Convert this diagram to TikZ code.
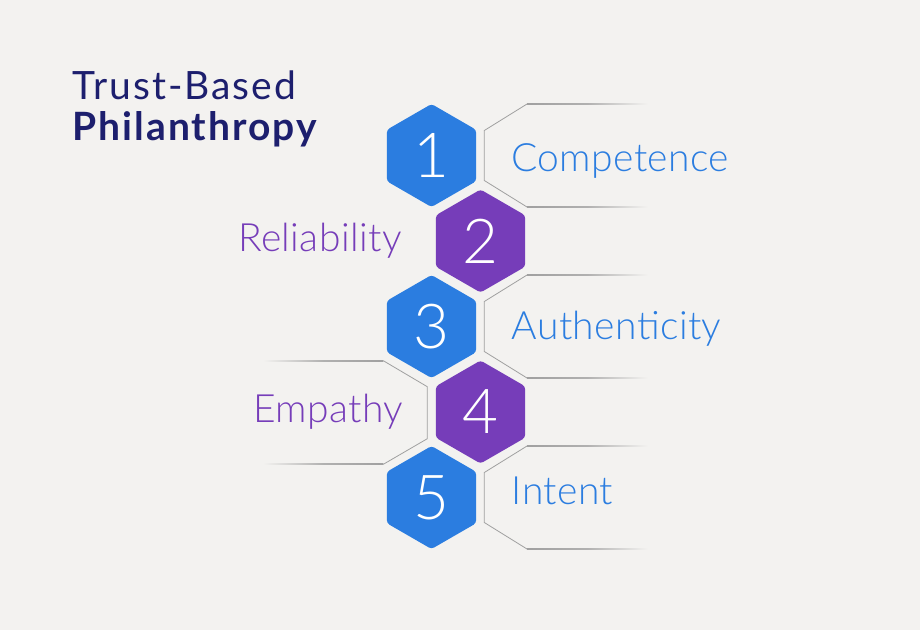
\documentclass[tikz,border=0pt]{standalone}
\usepackage{fontspec}
\setmainfont{Lato}
\newfontfamily\lightfont{Lato Light}[LetterSpace=1]
\newfontfamily\titlefont{Lato}[LetterSpace=5]
\usetikzlibrary{shapes.geometric,calc}
\definecolor{bg}{HTML}{F3F2F0}
\definecolor{hexblue}{HTML}{2B7DE0}
\definecolor{hexpurple}{HTML}{763DB9}
\definecolor{navy}{HTML}{1D1F6E}
\definecolor{rule}{HTML}{A0A0A0}

\begin{document}
\begin{tikzpicture}[x=1pt,y=-1pt,
  hex/.style={regular polygon,regular polygon sides=6,shape border rotate=30,minimum size=103pt,inner sep=0pt,rounded corners=3pt,text=white,font=\lightfont\fontsize{62}{62}\selectfont},
  lbl/.style={inner sep=0pt,font=\lightfont\fontsize{39}{39}\selectfont},
  ttl/.style={anchor=base west,inner sep=0pt,text=navy},
  bracket/.style={draw=rule,line width=0.8pt}]
\fill[bg](0,0)rectangle(920,630);
\useasboundingbox(0,0)rectangle(920,630);

\node[ttl,font=\titlefont\fontsize{39}{39}\selectfont](title1)at(72.7,99.3){Trust-Based};
\node[ttl,font=\titlefont\bfseries\fontsize{39}{39}\selectfont](title2)at(72.7,140){Philanthropy};

\node[hex,fill=hexblue](h1)at(431.5,155.5){1};
\node[hex,fill=hexpurple](h2)at(480.5,241){2};
\node[hex,fill=hexblue](h3)at(431.5,326.5){3};
\node[hex,fill=hexpurple](h4)at(480.5,412){4};
\node[hex,fill=hexblue](h5)at(431.5,497.5){5};

\foreach \h in {h1,h3,h5}{
\draw[bracket]($(\h)+(95.5,-51.5)$)--($(\h)+(52.8,-25)$)--($(\h)+(52.8,25)$)--($(\h)+(95.5,51.5)$);
\shade[left color=rule,right color=bg,middle color=rule!80!bg]($(\h)+(95.5,-51.9)$)rectangle($(\h)+(216,-51.1)$);
\shade[left color=rule,right color=bg,middle color=rule!80!bg]($(\h)+(95.5,51.1)$)rectangle($(\h)+(216,51.9)$);
}
\draw[bracket]($(h4)+(-97.2,-51.3)$)--($(h4)+(-53.2,-25.3)$)--($(h4)+(-53.2,26.7)$)--($(h4)+(-97.2,52.3)$);
\shade[right color=rule,left color=bg,middle color=rule!80!bg]($(h4)+(-217.5,-51.7)$)rectangle($(h4)+(-97.2,-50.9)$);
\shade[right color=rule,left color=bg,middle color=rule!80!bg]($(h4)+(-217.5,51.9)$)rectangle($(h4)+(-97.2,52.7)$);

\node[lbl,text=hexblue,anchor=base west](competence)at(511,171.7){Competence};
\node[lbl,text=hexpurple,anchor=base east](reliability)at(401.7,251.7){Reliability};
\node[lbl,text=hexblue,anchor=base west](authenticity)at(511.7,339){Authenticity};
\node[lbl,text=hexpurple,anchor=base east](empathy)at(403.3,422.7){Empathy};
\node[lbl,text=hexblue,anchor=base west](intent)at(511.7,504.3){Intent};
\end{tikzpicture}
\end{document}
